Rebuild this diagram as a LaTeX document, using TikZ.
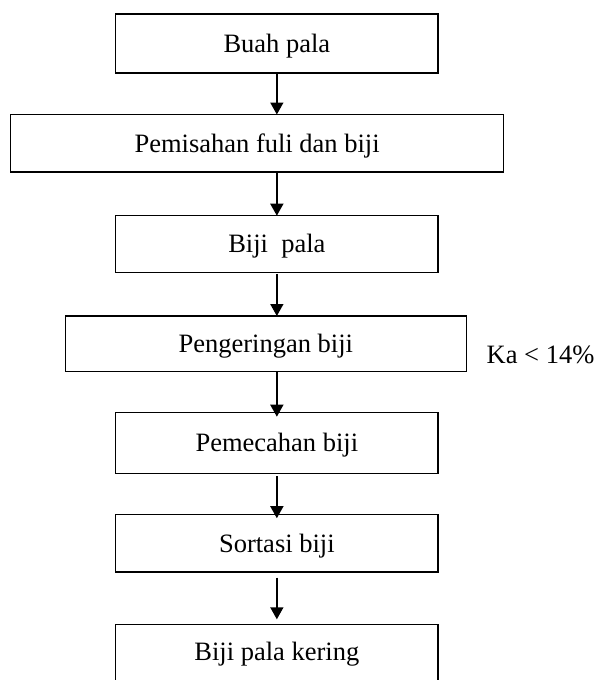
\documentclass[tikz,border=0pt]{standalone}
\usepackage{fontspec}
\setmainfont{Liberation Serif}
\usetikzlibrary{arrows.meta}
\begin{document}
\begin{tikzpicture}[x=1pt,y=-1pt,
  stepbox/.style={draw,line width=1.3pt,inner sep=0pt,outer sep=0pt,
    text height=17.5pt,text depth=0pt,font=\fontsize{26.5}{30}\selectfont},
  arr/.style={line width=1.6pt,-{Triangle[length=12pt,width=13pt]}},
  lbl/.style={inner sep=0pt,font=\fontsize{26.5}{30}\selectfont}]
\useasboundingbox (0,0) rectangle (595,680);
\fill[white] (0,0) rectangle (595,680);
\node[stepbox,minimum width=322.3pt,minimum height=59pt] (buah) at (276.85,43.5) {Buah pala};
\node[stepbox,minimum width=493pt,minimum height=57.5pt] (pemisahan) at (257.1,143.25) {Pemisahan fuli dan biji};
\node[stepbox,minimum width=322.3pt,minimum height=56.6pt] (biji) at (276.85,244) {Biji\ \ pala};
\node[stepbox,minimum width=401.2pt,minimum height=55.7pt] (pengeringan) at (265.8,343.85) {Pengeringan biji};
\node[stepbox,minimum width=322.3pt,minimum height=60.6pt] (pemecahan) at (276.85,443) {Pemecahan biji};
\node[stepbox,minimum width=322.3pt,minimum height=57.3pt] (sortasi) at (276.85,543.35) {Sortasi biji};
\node[stepbox,minimum width=322.3pt,minimum height=57.7pt,text height=13.7pt] (kering) at (276.85,653.15) {Biji pala kering};
\node[lbl,anchor=base west] (ka) at (486.5,363) {Ka < 14\%};
\draw[arr] (buah.south) -- (buah.south |- pemisahan.north);
\draw[arr] (pemisahan.south -| buah.south) -- (biji.north);
\draw[arr,shorten <=1.5pt] (biji.south) -- (biji.south |- pengeringan.north);
\draw[arr,shorten >=-4pt] (pengeringan.south -| biji.south) -- (pemecahan.north);
\draw[arr,shorten <=3pt,shorten >=-3.5pt] (pemecahan.south) -- (sortasi.north);
\draw[arr,shorten <=5.5pt,shorten >=5pt] (sortasi.south) -- (kering.north);
\end{tikzpicture}
\end{document}
